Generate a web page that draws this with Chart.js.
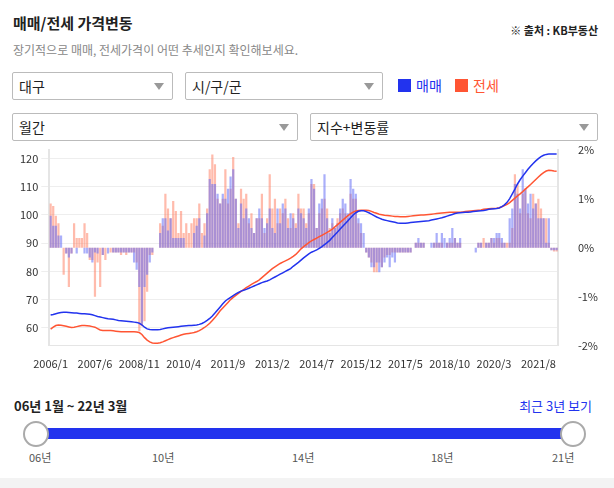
<!DOCTYPE html>
<html><head><meta charset="utf-8">
<script src="https://cdn.jsdelivr.net/npm/chart.js@4"></script>
<style>
body{margin:0;width:614px;height:488px;font-family:"Noto Sans CJK KR","Noto Sans",sans-serif;background:#fff;position:relative;overflow:hidden;color:#222}
.a{position:absolute;white-space:nowrap}
.sel{position:absolute;border:1px solid #bbb;border-radius:2px;height:28px;box-sizing:border-box;font-size:14px;line-height:26px;padding-left:6px;color:#222}
.sel:after{content:"";position:absolute;right:8px;top:10px;border-left:5px solid transparent;border-right:5px solid transparent;border-top:7px solid #999}
</style></head><body>
<div class="a" style="left:13px;top:12px;font-size:15px;font-weight:bold">매매/전세 가격변동</div>
<div class="a" style="right:16px;top:22px;font-size:11px;font-weight:bold">※ 출처 : KB부동산</div>
<div class="a" style="left:13px;top:41px;font-size:12px;color:#888">장기적으로 매매, 전세가격이 어떤 추세인지 확인해보세요.</div>
<div class="sel" style="left:12px;top:72px;width:161px">대구</div>
<div class="sel" style="left:185px;top:72px;width:198px">시/구/군</div>
<div class="a" style="left:398px;top:79px;width:13px;height:13px;background:#2233ee"></div>
<div class="a" style="left:416px;top:75px;font-size:14px;color:#2233ee">매매</div>
<div class="a" style="left:455px;top:79px;width:13px;height:13px;background:#ff5533"></div>
<div class="a" style="left:473px;top:75px;font-size:14px;color:#ff5533">전세</div>
<div class="sel" style="left:12px;top:113px;width:286px">월간</div>
<div class="sel" style="left:310px;top:113px;width:288px">지수+변동률</div>
<div class="a" style="left:10px;top:131px;width:600px;height:242px"><canvas id="c"></canvas></div>
<div class="a" style="left:14px;top:396px;font-size:13px;font-weight:bold">06년 1월 ~ 22년 3월</div>
<div class="a" style="right:22px;top:396px;font-size:13px;color:#2233ee">최근 3년 보기</div>
<div class="a" style="left:35px;top:428px;width:537px;height:11px;background:#2233ee"></div>
<div class="a" style="left:23px;top:421px;width:22px;height:22px;border-radius:50%;background:#fff;border:2px solid #aaa"></div>
<div class="a" style="left:560px;top:421px;width:22px;height:22px;border-radius:50%;background:#fff;border:2px solid #aaa"></div>
<div class="a" style="left:29px;top:449px;font-size:11px;color:#555">06년</div>
<div class="a" style="left:152px;top:449px;font-size:11px;color:#555">10년</div>
<div class="a" style="left:292px;top:449px;font-size:11px;color:#555">14년</div>
<div class="a" style="left:431px;top:449px;font-size:11px;color:#555">18년</div>
<div class="a" style="left:552px;top:449px;font-size:11px;color:#555">21년</div>
<div class="a" style="left:0;top:478px;width:614px;height:10px;background:#f3f3f3"></div>
<script>
const startYear = 2006, monthCount = 195;
const saleIndex = [
64.5,64.7,65,65.2,65.4,65.5,65.5,65.4,65.3,65.2,65.2,65.1,
65.0,65.0,64.9,64.8,64.6,64.3,64.0,63.8,63.6,63.4,63.2,63.1,
63.0,62.8,62.6,62.5,62.4,62.3,62.2,62.1,62.0,61.9,61.6,61.0,
60.2,59.6,59.4,59.3,59.3,59.3,59.4,59.6,59.8,60.0,60.1,60.2,
60.3,60.4,60.5,60.6,60.7,60.8,60.8,60.9,61.0,61.2,61.5,62.0,
62.6,63.3,64.2,65.2,66.3,67.4,68.5,69.5,70.2,70.8,71.4,72.0,
72.5,73.0,73.3,73.6,74.0,74.4,74.8,75.2,75.6,76.0,76.3,76.6,
77.0,77.5,78.0,78.5,79.0,79.5,80.0,80.5,81.0,81.8,82.5,83.2,
84.0,84.8,85.5,86.2,86.8,87.2,87.6,88.2,88.8,89.5,90.2,91.0,
92.0,93.0,94.0,95.0,96.0,97.0,98.0,99.0,100.0,100.8,101.3,101.5,
101.5,101.2,100.8,100.3,99.8,99.3,98.9,98.5,98.2,98.0,97.8,97.6,
97.4,97.2,97.1,97.1,97.1,97.2,97.3,97.4,97.5,97.6,97.7,97.8,
97.9,98.0,98.2,98.4,98.6,98.8,99.0,99.3,99.6,99.9,100.2,100.5,
100.7,100.8,100.9,101.0,101.0,101.1,101.2,101.3,101.4,101.5,101.6,101.8,
102.0,102.1,102.2,102.3,102.5,103.0,103.6,104.5,105.8,107.5,109.2,111.0,
112.5,113.8,115.0,116.2,117.3,118.3,119.2,120.0,120.7,121.2,121.5,121.6,
121.6,121.6,121.6];
const jeonseIndex = [
59.5,60.2,60.8,61.0,60.9,60.7,60.5,60.3,60.1,60.2,60.4,60.6,
60.8,60.8,60.7,60.6,60.4,60.2,59.7,59.2,59.0,59.0,59.0,59.0,
58.9,58.8,58.7,58.6,58.6,58.6,58.6,58.6,58.6,58.5,58.3,57.6,
56.5,55.6,55.0,54.6,54.5,54.5,54.7,55.0,55.4,55.8,56.2,56.5,
56.8,57.1,57.4,57.7,57.9,58.0,58.1,58.3,58.6,59.0,59.5,60.1,
60.8,61.6,62.6,63.6,64.8,66.0,67.0,68.0,69.0,70.0,70.8,71.5,
72.2,72.9,73.5,74.2,74.8,75.4,75.9,76.4,77.0,77.8,78.6,79.4,
80.2,81.0,81.6,82.2,82.8,83.3,83.7,84.2,84.7,85.3,86.0,87.0,
88.0,88.8,89.5,90.2,90.8,91.3,91.8,92.3,92.8,93.3,93.8,94.4,
95.0,95.8,96.6,97.4,98.2,99.0,99.8,100.5,101.0,101.4,101.6,101.7,
101.7,101.7,101.6,101.3,100.9,100.6,100.3,100.1,99.9,99.8,99.7,99.6,
99.5,99.5,99.4,99.4,99.4,99.5,99.6,99.7,99.8,99.9,100.0,100.0,
100.1,100.2,100.3,100.4,100.5,100.6,100.7,100.8,100.9,101.0,101.0,101.0,
101.0,101.0,101.1,101.2,101.3,101.4,101.5,101.6,101.7,101.8,102.0,102.1,
102.2,102.3,102.3,102.4,102.6,102.9,103.3,103.8,104.4,105.2,106.0,106.8,
107.5,108.3,109.2,110.0,110.8,111.7,112.6,113.5,114.3,115.0,115.6,115.9,
115.8,115.6,115.5];
const saleChange = [
.65,.45,.45,.25,.25,0,-.12,-.2,-.12,0,-.12,0,
0,-.12,-.12,-.2,-.3,-.1,-.12,0,-.15,0,-.12,0,
-.1,-.1,-.1,-.1,-.1,-.1,-.1,-.1,-.3,-.45,-.8,-1.55,
-.8,-.55,-.3,-.1,0,0,.3,.6,.6,.35,.6,.2,
.2,.2,.2,.2,0,0,0,.3,.45,.6,0,.25,
.7,1.4,1.3,1.3,1.1,.9,1.1,1.0,1.2,1.45,1.6,1.0,
.4,.9,.6,.8,.6,.4,.3,.6,.8,.6,.4,.5,
.8,.4,.3,.8,.5,.9,.8,.4,.7,.6,.4,.8,
.7,.6,.4,.8,1.4,1.2,.4,.9,1.0,1.5,.6,.3,
.6,.4,.5,.8,1.0,.9,.7,1.4,1.2,1.1,.6,.5,
.3,-.1,-.2,-.4,-.4,-.3,-.5,-.4,-.3,-.2,-.4,-.2,
-.3,-.1,-.1,-.1,-.1,-.1,-.1,0,.1,.2,.1,.1,
0,0,.1,.1,.3,.1,.3,.2,.1,.2,.4,.2,
.1,.2,0,0,0,0,0,-.1,.1,.1,0,.1,
.1,.2,.2,.3,.3,.2,.1,0,.6,.8,1.3,1.1,
.8,1.6,1.2,.9,1.1,.8,.9,.6,.6,.6,.1,.6,
-.05,-.05,-.05];
const jeonseChange = [
.9,.85,.65,.5,0,-.55,-.12,-.8,-.12,.5,.2,.2,
.2,.5,.3,-.25,-.25,-1.0,-.3,-.8,-.15,-.25,0,-.1,
-.1,-.1,-.1,-.15,-.1,-.15,-.1,-.1,-.1,-.3,-1.7,-1.6,
-1.5,-.9,-.15,-.15,0,0,.5,.45,1.1,.8,.6,.95,
.75,.3,.75,.3,.5,.3,.5,.6,.6,.9,.3,.5,
.8,1.6,1.9,1.7,1.0,.9,1.0,1.6,.9,1.2,1.85,1.0,
.5,1.2,1.0,1.1,.5,.7,.3,.6,.6,1.1,.3,.6,
1.5,.8,1.0,.5,.8,.7,1.0,.6,.4,.7,.5,1.1,
.8,.8,.5,.7,1.3,1.3,.4,.7,.8,1.0,.8,.4,
.5,.4,.6,.7,.8,.7,.6,1.1,1.0,1.0,.5,.3,
0,-.1,-.2,-.3,-.5,-.5,-.3,-.4,-.2,-.15,-.15,-.1,
-.1,-.1,-.1,-.1,-.1,-.1,-.1,0,.1,.1,.1,.1,
0,0,0,.1,.1,.1,.1,0,.1,.1,.1,.2,
.1,.1,0,0,0,0,0,0,.1,.1,.2,.1,
.1,.2,.1,.2,.2,.1,.1,.1,.1,.4,1.5,1.3,
.7,1.1,1.2,.7,.6,1.1,.9,1.0,.8,.6,.6,.1,
-.05,-.08,-.08];
const leftTicks = [60,70,80,90,100,110,120];
const rightTicks = [-2,-1,0,1,2];
const labels = [];
for (let i=0;i<monthCount;i++) labels.push((startYear+Math.floor(i/12))+'/'+(i%12+1));

new Chart(document.getElementById('c'), {
  data:{labels, datasets:[
    {type:'line',label:'매매',data:saleIndex,yAxisID:'y',borderColor:'#2233ee',borderWidth:1.5,pointRadius:0,order:0},
    {type:'line',label:'전세',data:jeonseIndex,yAxisID:'y',borderColor:'#ff5533',borderWidth:1.5,pointRadius:0,order:0},
    {type:'bar',label:'매매 변동률',data:saleChange,yAxisID:'y2',backgroundColor:'rgba(100,110,245,0.55)',grouped:false,barPercentage:0.85,categoryPercentage:1,order:1},
    {type:'bar',label:'전세 변동률',data:jeonseChange,yAxisID:'y2',backgroundColor:'rgba(255,120,90,0.5)',grouped:false,barPercentage:0.85,categoryPercentage:1,order:1}
  ]},
  options:{responsive:true,maintainAspectRatio:false,animation:false,
    layout:{padding:{left:7,right:0,top:3,bottom:0}},
    plugins:{legend:{display:false},tooltip:{enabled:false}},
    scales:{
      x:{grid:{display:false},border:{color:'#e5e5e5'},ticks:{autoSkip:false,maxRotation:0,color:'#333',font:{size:11,family:'Noto Sans CJK KR'},
        callback:(v,i)=> i%17===0 ? labels[i] : ''}},
      y:{position:'left',min:53.6,max:123.2,afterBuildTicks:a=>{a.ticks=leftTicks.map(v=>({value:v}))},
        grid:{color:'#eeeeee'},border:{color:'#e5e5e5',width:2},ticks:{color:'#333',font:{size:11,family:'Noto Sans CJK KR'}}},
      y2:{position:'right',min:-2,max:2,afterBuildTicks:a=>{a.ticks=rightTicks.map(v=>({value:v}))},
        grid:{display:false},border:{color:'#e5e5e5',width:2},ticks:{color:'#333',padding:12,font:{size:11,family:'Noto Sans CJK KR'},callback:v=>v+'%'}}
    }}
});
</script></body></html>
